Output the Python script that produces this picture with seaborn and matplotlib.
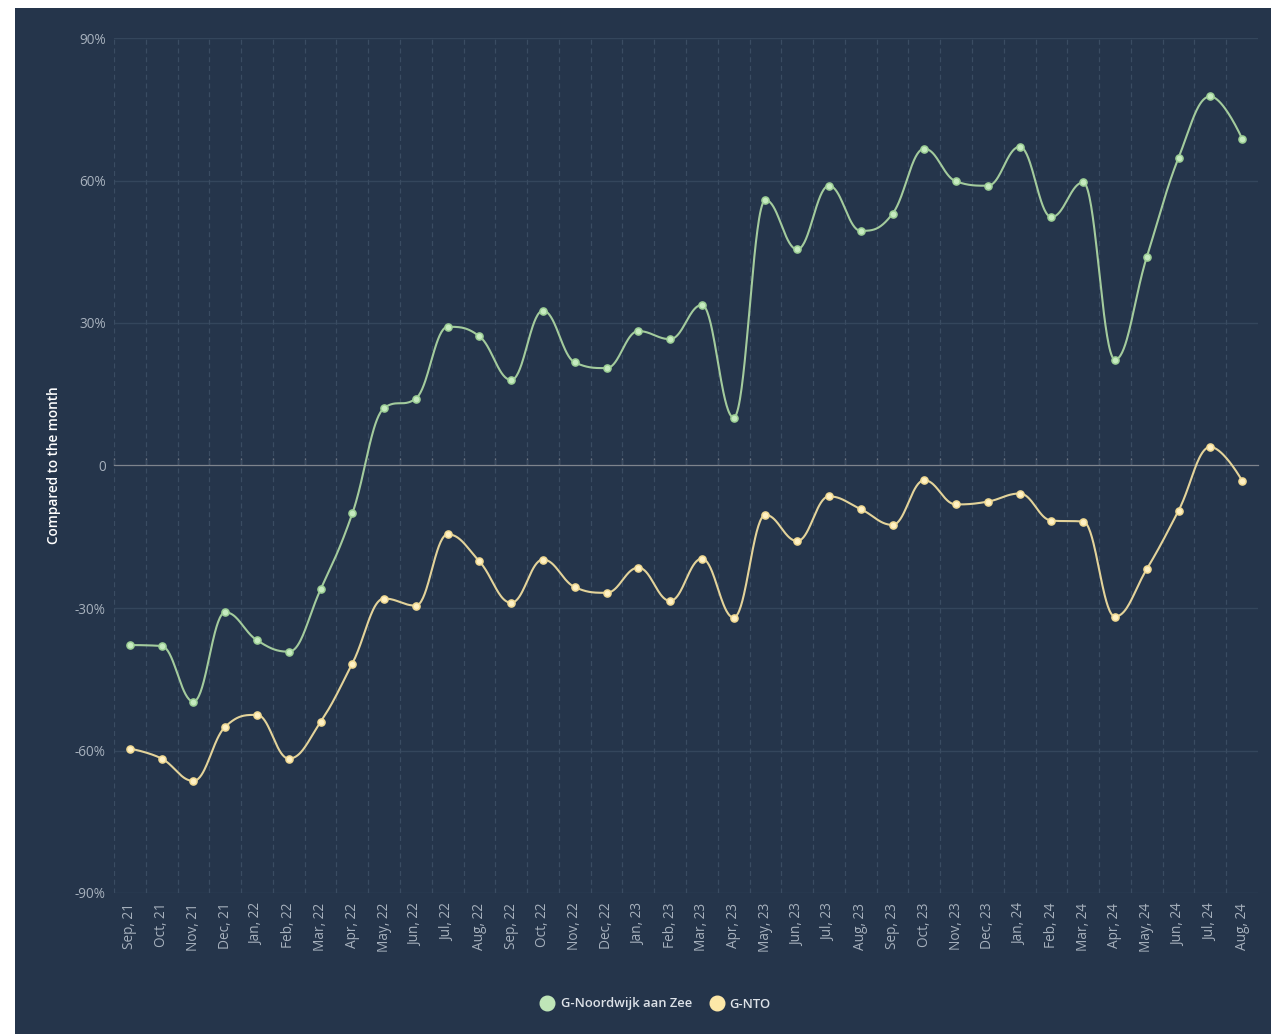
import numpy as np
import pandas as pd
import matplotlib
matplotlib.use("Agg")
import matplotlib.pyplot as plt
from matplotlib.patches import Rectangle
from matplotlib.lines import Line2D
import seaborn as sns

# ---------------- data ----------------
months = ["Sep, 21", "Oct, 21", "Nov, 21", "Dec, 21", "Jan, 22", "Feb, 22", "Mar, 22", "Apr, 22",
          "May, 22", "Jun, 22", "Jul, 22", "Aug, 22", "Sep, 22", "Oct, 22", "Nov, 22", "Dec, 22",
          "Jan, 23", "Feb, 23", "Mar, 23", "Apr, 23", "May, 23", "Jun, 23", "Jul, 23", "Aug, 23",
          "Sep, 23", "Oct, 23", "Nov, 23", "Dec, 23", "Jan, 24", "Feb, 24", "Mar, 24", "Apr, 24",
          "May, 24", "Jun, 24", "Jul, 24", "Aug, 24"]

noordwijk = [-37.8, -38.0, -49.7, -30.9, -36.8, -39.2, -26.1, -10.1,
             12.1, 14.1, 29.2, 27.2, 18.0, 32.6, 21.7, 20.5,
             28.3, 26.6, 33.8, 10.1, 55.9, 45.5, 58.9, 49.4,
             53.0, 66.7, 59.8, 58.9, 67.1, 52.3, 59.6, 22.3,
             43.9, 64.8, 77.7, 68.8]

nto = [-59.6, -61.7, -66.4, -55.0, -52.5, -61.7, -54.0, -41.7,
       -28.0, -29.5, -14.5, -20.2, -28.9, -19.8, -25.6, -26.8,
       -21.5, -28.5, -19.6, -32.0, -10.4, -15.9, -6.5, -9.2,
       -12.5, -3.1, -8.2, -7.6, -5.9, -11.6, -11.8, -31.8,
       -21.8, -9.5, 3.9, -3.2]

series_names = ["G-Noordwijk aan Zee", "G-NTO"]
y_ticks = [-90, -60, -30, 0, 30, 60, 90]
y_tick_labels = ["-90%", "-60%", "-30%", "0", "30%", "60%", "90%"]
y_label = "Compared to the month"

# ---------------- style ----------------
W, H = 1271, 1034
BG = "#25354b"
GRID_H = "#34465c"
GRID_V = "#3a4c62"
ZERO = "#7e848d"
TICK = "#a7b1bd"
LINE_COLORS = ["#a3cb9d", "#e3d39a"]
MARK_FILL = ["#c6ebc0", "#fff1c4"]
MARK_EDGE = ["#9dcf96", "#f1da93"]
LEGEND_FILL = ["#bfe6b8", "#fde8a8"]


def highcharts_spline(xs, ys, samples=40):
    """Smooth curve through the points (Highcharts 'spline' construction)."""
    n = len(xs)
    sm, den = 1.5, 2.5
    lc = [(x, y) for x, y in zip(xs, ys)]
    rc = [(x, y) for x, y in zip(xs, ys)]
    for i in range(1, n - 1):
        px, py = xs[i], ys[i]
        lx, ly = xs[i - 1], ys[i - 1]
        nx, ny = xs[i + 1], ys[i + 1]
        lcx = (sm * px + lx) / den
        lcy = (sm * py + ly) / den
        rcx = (sm * px + nx) / den
        rcy = (sm * py + ny) / den
        if rcx != lcx:
            corr = ((rcy - lcy) * (rcx - px)) / (rcx - lcx) + py - rcy
            lcy += corr
            rcy += corr
        if lcy > ly and lcy > py:
            lcy = max(ly, py)
            rcy = 2 * py - lcy
        elif lcy < ly and lcy < py:
            lcy = min(ly, py)
            rcy = 2 * py - lcy
        if rcy > ny and rcy > py:
            rcy = max(ny, py)
            lcy = 2 * py - rcy
        elif rcy < ny and rcy < py:
            rcy = min(ny, py)
            lcy = 2 * py - rcy
        lc[i] = (lcx, lcy)
        rc[i] = (rcx, rcy)
    t = np.linspace(0, 1, samples)
    outx, outy = [], []
    for i in range(1, n):
        p0 = np.array([xs[i - 1], ys[i - 1]])
        p1 = np.array(rc[i - 1])
        p2 = np.array(lc[i])
        p3 = np.array([xs[i], ys[i]])
        tt = t[:, None]
        pts = ((1 - tt) ** 3) * p0 + 3 * ((1 - tt) ** 2) * tt * p1 + 3 * (1 - tt) * tt ** 2 * p2 + tt ** 3 * p3
        if i > 1:
            pts = pts[1:]
        outx.extend(pts[:, 0])
        outy.extend(pts[:, 1])
    return np.array(outx), np.array(outy)


sns.set_theme(style="dark", rc={"axes.edgecolor": ZERO})
plt.rcParams["font.family"] = ["Open Sans", "DejaVu Sans"]

fig = plt.figure(figsize=(W / 100, H / 100), dpi=100, facecolor="white")
fig.patches.append(Rectangle((15 / W, 0), 1 - 15 / W, 1 - 8 / H, transform=fig.transFigure,
                             facecolor=BG, edgecolor="none", zorder=-10))

left, right = 114 / W, 1258 / W
top, bottom = 1 - 38 / H, 1 - 893 / H
ax = fig.add_axes([left, bottom, right - left, top - bottom])
ax.set_facecolor(BG)

x_idx = np.arange(len(months))
series_vals = [noordwijk, nto]

long_rows = []
for name, vals in zip(series_names, series_vals):
    sx, sy = highcharts_spline(x_idx.astype(float), np.array(vals, dtype=float))
    long_rows.append(pd.DataFrame({"x": sx, "y": sy, "series": name}))
curve_df = pd.concat(long_rows, ignore_index=True)

points_df = pd.concat([pd.DataFrame({"x": x_idx, "y": vals, "series": name})
                       for name, vals in zip(series_names, series_vals)], ignore_index=True)

# grid
for v in y_ticks:
    if v != 0:
        ax.axhline(v, color=GRID_H, lw=1.0, zorder=1)
boundaries = np.arange(-0.5, len(months) - 1, 1.0)
for b in boundaries:
    ax.axvline(b, color=GRID_V, lw=0.9, ls=(0, (4, 3)), zorder=1)

# curves
sns.lineplot(data=curve_df, x="x", y="y", hue="series", hue_order=series_names,
             palette=LINE_COLORS, sort=False, estimator=None, units="series",
             lw=1.5, legend=False, ax=ax, zorder=3)
for name, fc, ec in zip(series_names, MARK_FILL, MARK_EDGE):
    sub = points_df[points_df["series"] == name]
    sns.scatterplot(data=sub, x="x", y="y", color=fc, edgecolor=ec, linewidth=1.1,
                    s=26, legend=False, ax=ax, zorder=4)

ax.set_xlim(-0.5, len(months) - 0.5)
ax.set_ylim(-90, 90)

# zero line with tick marks (secondary x axis placed at y = 0)
sec = ax.secondary_xaxis(0.5)
sec.set_xticks(boundaries)
sec.set_xticklabels([])
sec.tick_params(axis="x", length=5, width=0.9, color=ZERO, direction="out")
for s in sec.spines.values():
    s.set_color(ZERO)
    s.set_linewidth(0.9)

ax.set_xticks(x_idx)
ax.set_xticklabels(months, rotation=90, color=TICK, fontsize=9.8)
ax.set_yticks(y_ticks)
ax.set_yticklabels(y_tick_labels, color=TICK, fontsize=9.8)
ax.tick_params(axis="x", length=0, pad=7)
ax.tick_params(axis="y", length=0, pad=6)
ax.grid(False)
for s in ax.spines.values():
    s.set_visible(False)
ax.set_xlabel("")
ax.set_ylabel(y_label, color="white", fontsize=9.8, fontweight="semibold")
ax.yaxis.set_label_coords((61 - 114) / (1258 - 114), 0.5)

handles = [Line2D([0], [0], marker="o", ls="none", markersize=10.5,
                  markerfacecolor=c, markeredgecolor=c) for c in LEGEND_FILL]
leg = fig.legend(handles, series_names, loc="center", bbox_to_anchor=(0.516, 1 - 1004 / H),
                 ncol=2, frameon=False, fontsize=9.4, handletextpad=0.5, columnspacing=1.4,
                 handlelength=1.0)
for t in leg.get_texts():
    t.set_color("#dde2e8")
    t.set_fontweight("semibold")

fig.savefig("out.png", dpi=100, facecolor="white")
